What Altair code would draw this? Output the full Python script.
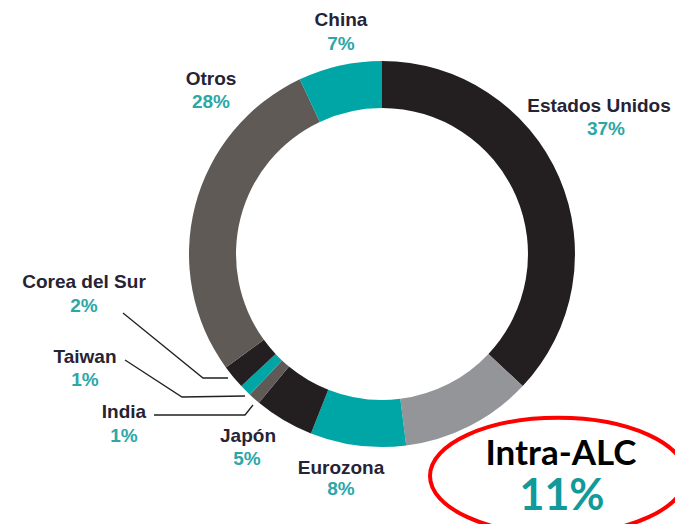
import altair as alt
import pandas as pd

# Data
countries = ["Estados Unidos", "Intra-ALC", "Eurozona", "Japón", "India",
             "Taiwan", "Corea del Sur", "Otros", "China"]
shares = [37, 11, 8, 5, 1, 1, 2, 28, 7]
slice_colors = ["#231f20", "#939598", "#00a5a5", "#231f20", "#5f5a55",
                "#00a5a5", "#231f20", "#5f5a55", "#00a5a5"]

# Label layout (image pixel coordinates; page offset 8px)
OFF = 8
label_names = ["Estados Unidos", "Eurozona", "Japón", "India", "Taiwan",
               "Corea del Sur", "Otros", "China"]
label_x = [599, 341, 248, 124, 85, 84, 211, 341]
label_y_name = [112, 474, 442, 418, 363, 288, 85, 26]
label_y_pct = [135, 495, 465, 442, 386, 312, 108, 50]
label_pct_x = [606, 341, 247, 124, 85, 84, 211, 341]

W, H = 667, 516
CX, CY = 382 - OFF, 254 - OFF

arc_df = pd.DataFrame({
    "country": countries,
    "share": shares,
    "order": list(range(len(countries))),
})

share_of = dict(zip(countries, shares))
lab_df = pd.DataFrame({
    "name": label_names,
    "pct": [f"{share_of[n]}%" for n in label_names],
    "x": [v - OFF for v in label_x],
    "xp": [v - OFF for v in label_pct_x],
    "yn": [v - OFF for v in label_y_name],
    "yp": [v - OFF for v in label_y_pct],
})

arcs = alt.Chart(arc_df).mark_arc(outerRadius=193, innerRadius=146, stroke=None).encode(
    theta=alt.Theta("share:Q", stack=True),
    order=alt.Order("order:Q"),
    color=alt.Color("country:N", scale=alt.Scale(domain=countries, range=slice_colors), legend=None),
    x=alt.value(CX),
    y=alt.value(CY),
)

names = alt.Chart(lab_df).mark_text(
    font="Liberation Sans", fontWeight="bold", fontSize=19, color="#262335",
    align="center", baseline="alphabetic"
).encode(
    x=alt.X("x:Q", scale=None), y=alt.Y("yn:Q", scale=None), text="name:N"
)

pcts = alt.Chart(lab_df).mark_text(
    font="Liberation Sans", fontWeight="bold", fontSize=19, color="#2ba7a8",
    align="center", baseline="alphabetic"
).encode(
    x=alt.X("xp:Q", scale=None), y=alt.Y("yp:Q", scale=None), text="pct:N"
)

# Leader lines (image coords)
leaders = [
    ("Corea del Sur", [(123, 313), (203, 378), (228, 378)]),
    ("Taiwan", [(125, 360), (182, 397), (245, 396)]),
    ("India", [(154, 415), (245, 415), (253, 405)]),
]
rows = []
for name, pts in leaders:
    for i, (px, py) in enumerate(pts):
        rows.append({"g": name, "i": i, "x": px - OFF, "y": py - OFF})
lead_df = pd.DataFrame(rows)
lines = alt.Chart(lead_df).mark_line(color="#231f20", strokeWidth=1.3).encode(
    x=alt.X("x:Q", scale=None), y=alt.Y("y:Q", scale=None),
    detail="g:N", order="i:Q"
)

# Highlight callout
hl_df = pd.DataFrame({"name": ["Intra-ALC"], "pct": [f"{share_of['Intra-ALC']}%"]})
ellipse_path = "M -1 0 A 1 0.455 0 1 1 1 0 A 1 0.455 0 1 1 -1 0 Z"
ellipse = alt.Chart(hl_df).mark_point(
    shape=ellipse_path, size=256 * 256, filled=False, stroke="#ff0000",
    strokeWidth=4, opacity=1
).encode(x=alt.value(558 - OFF), y=alt.value(476 - OFF))

hl_name = alt.Chart(hl_df).mark_text(
    font="Lato", fontWeight="bold", fontSize=35, color="#000000",
    align="center", baseline="alphabetic"
).encode(x=alt.value(561 - OFF), y=alt.value(465 - OFF), text="name:N")

hl_pct = alt.Chart(hl_df).mark_text(
    font="Lato", fontWeight="bold", fontSize=43, color="#109a9a",
    align="center", baseline="alphabetic"
).encode(x=alt.value(562 - OFF), y=alt.value(510 - OFF), text="pct:N")

chart = alt.layer(arcs, lines, names, pcts, ellipse, hl_name, hl_pct).properties(
    width=W, height=H, padding=0, autosize=alt.AutoSizeParams(type="none")
).configure_view(stroke=None)

chart.save("out.html", embed_options={"renderer": "svg", "actions": False})
